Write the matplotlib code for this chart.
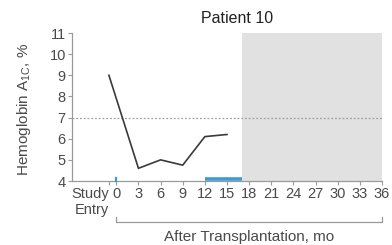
import matplotlib
matplotlib.use('Agg')
import matplotlib.pyplot as plt
import matplotlib.transforms as mtransforms

plt.rcParams['font.family'] = ['Liberation Sans', 'DejaVu Sans']
plt.rcParams['mathtext.fontset'] = 'custom'
plt.rcParams['mathtext.rm'] = 'Liberation Sans'
plt.rcParams['mathtext.it'] = 'Liberation Sans'

# data
months = [-1, 3, 6, 9, 12, 15]
hba1c = [9.0, 4.6, 5.0, 4.75, 6.1, 6.2]
tick_pos = [-1, 0, 3, 6, 9, 12, 15, 18, 21, 24, 27, 30, 33, 36]
tick_labels = ['Study\nEntry'] + [str(m) for m in range(0, 37, 3)]
yticks = [4, 5, 6, 7, 8, 9, 10, 11]
target = 7
shade_span = (17, 36)
insulin_span = (12, 17)
insulin_mark = 0

txt = '#4a4a4a'
axc = '#9a9a9a'

fig = plt.figure(figsize=(3.92, 2.45), dpi=100)
ax = fig.add_axes([0.1837, 0.2612, 0.7908, 0.6041])

ax.axvspan(shade_span[0], shade_span[1], ymin=0, ymax=1, color='#e1e1e1', lw=0, zorder=0)
ax.axhline(target, color='#a0a0a0', lw=0.9, ls=(0, (1.5, 1.5)), zorder=1)
ax.plot(months, hba1c, color='#3a3a3a', lw=1.2, zorder=3)

ax.plot(insulin_span, [4.08, 4.08], color='#3d9ad8', lw=2.6, solid_capstyle='butt', zorder=4, clip_on=False)
ax.plot([insulin_mark, insulin_mark], [4.0, 4.15], color='#3d9ad8', lw=1.6, zorder=4, clip_on=False)

ax.set_xlim(-6, 36)
ax.set_ylim(4, 11)
ax.set_yticks(yticks)
ax.set_xticks(tick_pos)
ax.set_xticklabels(tick_labels)
ax.get_xticklabels()[0].set_ha('right')

for s in ['top', 'right']:
    ax.spines[s].set_visible(False)
for s in ['left', 'bottom']:
    ax.spines[s].set_color(axc)
    ax.spines[s].set_linewidth(0.9)
ax.tick_params(axis='both', colors=axc, labelcolor=txt, labelsize=10.5, length=3, width=0.8, pad=1.5)

# bracket under months
tr = mtransforms.blended_transform_factory(ax.transData, ax.transAxes)
ax.plot([0, 0, 36, 36], [-0.245, -0.275, -0.275, -0.245], color=axc, lw=0.9, transform=tr, clip_on=False)

fig.text(0.635, 0.034, 'After Transplantation, mo', ha='center', va='center', fontsize=11, color=txt)
fig.text(0.605, 0.925, 'Patient 10', ha='center', va='center', fontsize=11.5, color='#222222')
fig.text(0.062, 0.555, r'Hemoglobin A$_{\mathrm{1C}}$, %', rotation=90, ha='center', va='center', fontsize=11, color=txt)

fig.savefig('out.png', dpi=100)
